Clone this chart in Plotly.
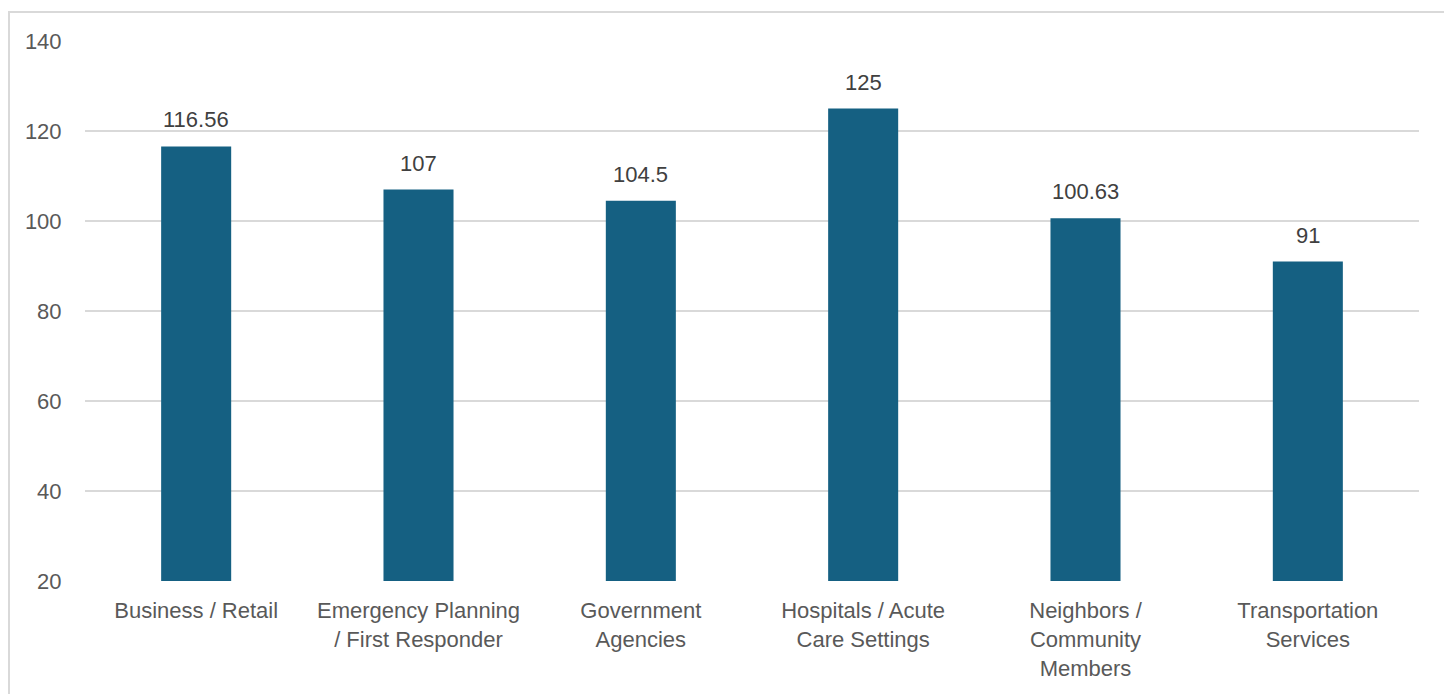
import plotly.graph_objects as go

categories = [
    "Business / Retail",
    "Emergency Planning<br>/ First Responder",
    "Government<br>Agencies",
    "Hospitals / Acute<br>Care Settings",
    "Neighbors /<br>Community<br>Members",
    "Transportation<br>Services",
]
values = [116.56, 107, 104.5, 125, 100.63, 91]
value_labels = ["116.56", "107", "104.5", "125", "100.63", "91"]
y_ticks = [20, 40, 60, 80, 100, 120, 140]

FONT = "Liberation Sans"
BAR = "#156082"

fig = go.Figure(
    go.Bar(
        x=categories,
        y=values,
        marker=dict(color=BAR, line=dict(width=0)),
        hoverinfo="x+y",
    )
)

for c, v, t in zip(categories, values, value_labels):
    fig.add_annotation(
        x=c, y=v, text=t, showarrow=False,
        yanchor="bottom", yshift=12,
        font=dict(family=FONT, size=22, color="#404040"),
    )

# the page offsets the figure by 8px (body margin)
OFF = 8
W, H = 1452 - OFF, 694 - OFF
ml, mr, mt, mb = 85 - OFF, 33, 41 - OFF, 113
pw, ph = W - ml - mr, H - mt - mb

fig.update_layout(
    width=W,
    height=H,
    margin=dict(l=ml, r=mr, t=mt, b=mb, pad=0),
    paper_bgcolor="white",
    plot_bgcolor="white",
    bargap=0.685,
    showlegend=False,
    font=dict(family=FONT, size=22, color="#595959"),
    xaxis=dict(
        showgrid=False,
        showline=False,
        ticks="outside",
        ticklen=10,
        tickcolor="rgba(0,0,0,0)",
        tickfont=dict(family=FONT, size=22, color="#595959"),
        fixedrange=True,
    ),
    yaxis=dict(
        range=[20, 140],
        tickvals=y_ticks,
        showgrid=True,
        gridcolor="#D9D9D9",
        gridwidth=1.5,
        zeroline=False,
        showline=False,
        ticks="outside",
        ticklen=18,
        tickcolor="rgba(0,0,0,0)",
        tickfont=dict(family=FONT, size=22, color="#595959"),
        fixedrange=True,
    ),
    shapes=[
        dict(
            type="rect",
            xref="paper",
            yref="paper",
            x0=(1 - ml) / pw,
            x1=(1448 - OFF - ml) / pw,
            y0=(H - mb - 720) / ph,
            y1=(H - mb - (12 - OFF)) / ph,
            line=dict(color="#D9D9D9", width=2),
            fillcolor="rgba(0,0,0,0)",
            layer="below",
        )
    ],
)

fig.write_html("out.html")
